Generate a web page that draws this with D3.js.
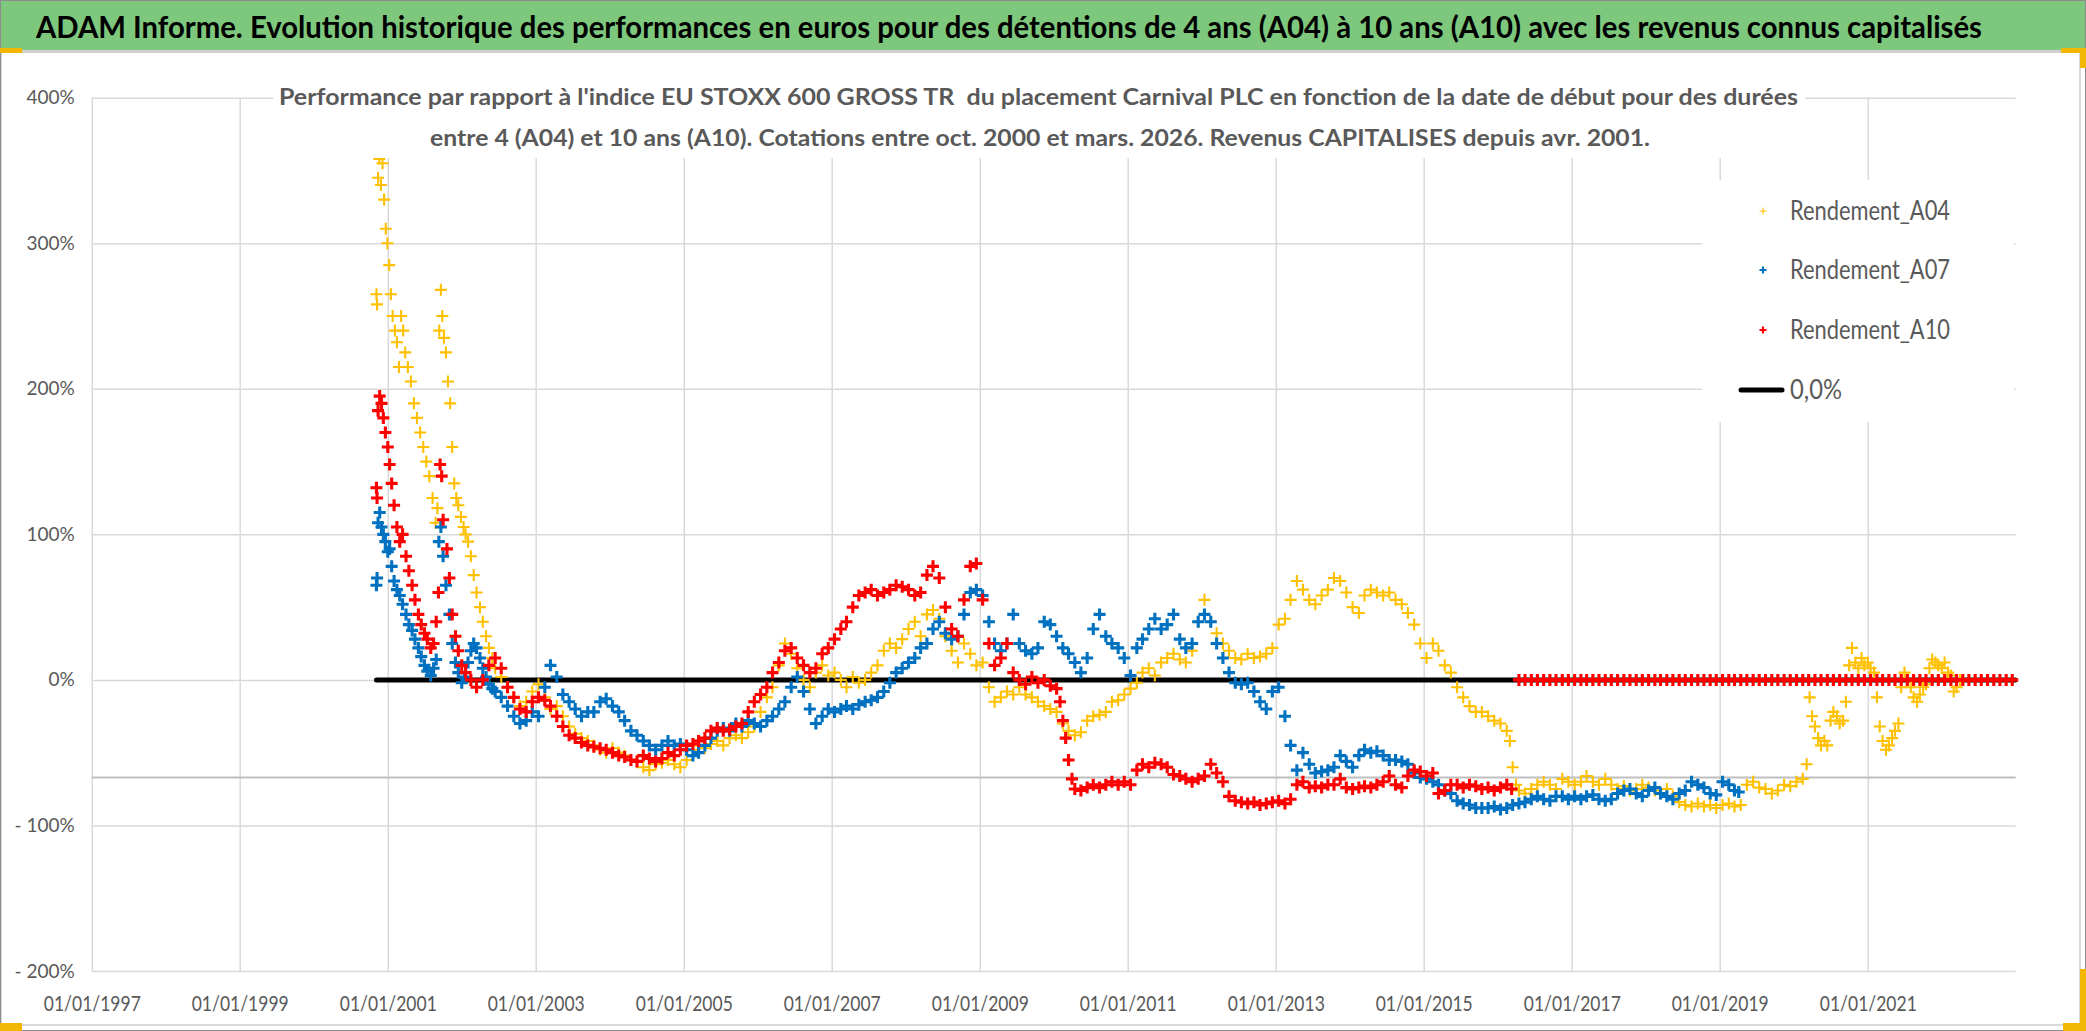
<!DOCTYPE html>
<html>
<head>
<meta charset="utf-8">
<script src="https://cdn.jsdelivr.net/npm/d3@7"></script>
<style>
  body { margin: 0; background: #fff; }
  svg { display: block; }
</style>
</head>
<body>
<div id="chart"></div>
<script>
// Carnival PLC vs EU STOXX 600 GROSS TR, relative performance (%) by start date
// dates "YYYY-MM" are read at mid-month

const a04 = [
  ["2000-11-06",265],["2000-11-09",258],["2000-11-14",345],["2000-11-20",358],["2000-11-28",340],
  ["2000-12-06",355],["2000-12-14",330],["2000-12-22",310],["2000-12-30",300],
  ["2001-01-08",285],["2001-01-16",265],["2001-01-25",250],["2001-02-05",240],["2001-02-15",232],
  ["2001-02-25",215],["2001-03-08",250],["2001-03-18",240],["2001-03-28",225],["2001-04-10",215],
  ["2001-04-25",205],["2001-05-10",190],["2001-05-25",180],["2001-06-10",170],["2001-06-25",160],
  ["2001-07-10",150],["2001-07-25",140],["2001-08-10",125],["2001-08-25",108],["2001-09-03",118],
  ["2001-09-12",240],["2001-09-20",268],["2001-09-27",250],["2001-10-05",235],["2001-10-15",225],
  ["2001-10-25",205],["2001-11-05",190],["2001-11-15",160],["2001-11-25",135],["2001-12-05",125],
  ["2001-12-15",120],["2001-12-28",112],["2002-01-10",105],["2002-01-20",100],["2002-02-01",95],
  ["2002-02-15",85],["2002-03-01",72],["2002-03-15",60],["2002-04-01",50],["2002-04-15",40],
  ["2002-05-01",30],["2002-05-15",22],["2002-06-01",15],["2002-06-15",8],
  ["2002-07",2],["2002-08",-5],["2002-09",-12],["2002-10",-18],["2002-11",-15],["2002-12",-8],
  ["2003-01",-3],["2003-02",-12],["2003-03",-20],["2003-04",-18],["2003-05",-25],["2003-06",-32],
  ["2003-07",-37],["2003-08",-40],["2003-09",-42],["2003-10",-45],["2003-11",-48],["2003-12",-50],
  ["2004-01",-47],["2004-02",-50],["2004-03",-52],["2004-04",-55],["2004-05",-56],["2004-06",-60],
  ["2004-07",-62],["2004-08",-58],["2004-09",-57],["2004-10",-55],["2004-11",-58],["2004-12",-60],
  ["2005-01",-55],["2005-02",-48],["2005-03",-45],["2005-04",-47],["2005-05",-44],["2005-06",-42],
  ["2005-07",-45],["2005-08",-40],["2005-09",-38],["2005-10",-40],["2005-11",-36],["2005-12",-32],
  ["2006-01",-22],["2006-02",-12],["2006-03",-5],["2006-04",10],["2006-05",25],["2006-06",18],
  ["2006-07",8],["2006-08",0],["2006-09",-5],["2006-10",5],["2006-11",10],["2006-12",3],
  ["2007-01",5],["2007-02",0],["2007-03",-5],["2007-04",2],["2007-05",-2],["2007-06",0],
  ["2007-07",5],["2007-08",10],["2007-09",20],["2007-10",25],["2007-11",22],["2007-12",28],
  ["2008-01",35],["2008-02",40],["2008-03",30],["2008-04",45],["2008-05",48],["2008-06",42],
  ["2008-07",30],["2008-08",20],["2008-09",12],["2008-10",25],["2008-11",18],["2008-12",10],
  ["2009-01",12],["2009-02",-5],["2009-03",-15],["2009-04",-12],["2009-05",-8],["2009-06",-10],
  ["2009-07",-5],["2009-08",-10],["2009-09",-12],["2009-10",-15],["2009-11",-18],["2009-12",-20],
  ["2010-01",-22],["2010-02",-30],["2010-03",-35],["2010-04",-38],["2010-05",-36],["2010-06",-28],
  ["2010-07",-25],["2010-08",-24],["2010-09",-22],["2010-10",-15],["2010-11",-14],["2010-12",-10],
  ["2011-01",-6],["2011-02",-2],["2011-03",5],["2011-04",8],["2011-05",3],["2011-06",12],
  ["2011-07",15],["2011-08",18],["2011-09",14],["2011-10",12],["2011-11",20],["2011-12",40],
  ["2012-01",55],["2012-02",40],["2012-03",32],["2012-04",25],["2012-05",20],["2012-06",15],
  ["2012-07",14],["2012-08",18],["2012-09",15],["2012-10",16],["2012-11",18],["2012-12",22],
  ["2013-01",38],["2013-02",42],["2013-03",55],["2013-04",68],["2013-05",62],["2013-06",55],
  ["2013-07",52],["2013-08",58],["2013-09",62],["2013-10",70],["2013-11",68],["2013-12",60],
  ["2014-01",50],["2014-02",46],["2014-03",58],["2014-04",62],["2014-05",60],["2014-06",58],
  ["2014-07",60],["2014-08",55],["2014-09",52],["2014-10",46],["2014-11",38],["2014-12",25],
  ["2015-01",15],["2015-02",25],["2015-03",20],["2015-04",10],["2015-05",5],["2015-06",-5],
  ["2015-07",-12],["2015-08",-18],["2015-09",-22],["2015-10",-22],["2015-11",-25],["2015-12",-28],
  ["2016-01",-30],["2016-02",-35],["2016-03-01",-42],["2016-03-15",-60],["2016-04-01",-72],
  ["2016-04",-76],["2016-05",-78],["2016-06",-75],["2016-07",-72],["2016-08",-70],["2016-09",-72],
  ["2016-10",-75],["2016-11",-68],["2016-12",-70],
  ["2017-01",-72],["2017-02",-70],["2017-03",-66],["2017-04",-70],["2017-05",-72],["2017-06",-68],
  ["2017-07",-72],["2017-08",-75],["2017-09",-73],["2017-10",-76],["2017-11",-75],["2017-12",-72],
  ["2018-01",-74],["2018-02",-76],["2018-03",-78],["2018-04",-75],["2018-05",-80],["2018-06",-84],
  ["2018-07",-86],["2018-08",-87],["2018-09",-85],["2018-10",-87],["2018-11",-86],["2018-12",-88],
  ["2019-01",-86],["2019-02",-85],["2019-03",-87],["2019-04",-86],["2019-05",-72],["2019-06",-70],
  ["2019-07",-74],["2019-08",-75],["2019-09",-78],["2019-10",-76],["2019-11",-72],["2019-12",-73],
  ["2020-01",-70],["2020-02",-68],["2020-03-05",-58],["2020-03-20",-12],["2020-04-01",-25],
  ["2020-04-15",-32],["2020-05-01",-40],["2020-05-15",-45],["2020-06-01",-42],["2020-06-15",-45],
  ["2020-07-01",-28],["2020-07-15",-22],["2020-08-01",-25],["2020-08-15",-30],["2020-09-01",-28],
  ["2020-09-15",-15],["2020-10-01",10],["2020-10-15",22],["2020-11-01",12],["2020-11-15",8],
  ["2020-12-01",15],["2020-12-15",10],["2021-01-01",12],["2021-01-15",8],["2021-02-01",5],
  ["2021-02-15",-12],["2021-03-01",-32],["2021-03-15",-42],["2021-04-01",-48],["2021-04-15",-45],
  ["2021-05-01",-40],["2021-05-15",-35],["2021-06-01",-30],["2021-06-15",-5],["2021-07-01",5],
  ["2021-07-15",0],["2021-08-01",-5],["2021-08-15",-12],["2021-09-01",-15],["2021-09-15",-10],
  ["2021-10-01",-5],["2021-10-15",-3],["2021-11-01",8],["2021-11-15",14],["2021-12-01",12],
  ["2021-12-15",10],["2022-01-01",8],["2022-01-15",12],["2022-02-01",5],["2022-02-15",3],
  ["2022-03-01",-8],["2022-03-15",-5],["2022-04-01",0]
];

const a07 = [
  ["2000-11-06",65],["2000-11-09",70],["2000-11-14",108],["2000-11-22",115],["2000-12-01",105],
  ["2000-12-10",100],["2000-12-20",95],["2001-01-01",88],["2001-01-10",90],["2001-01-20",78],
  ["2001-02-01",68],["2001-02-15",62],["2001-03-01",58],["2001-03-15",52],["2001-04-01",45],
  ["2001-04-15",38],["2001-05-01",34],["2001-05-15",28],["2001-06-01",22],["2001-06-15",16],
  ["2001-07-01",10],["2001-07-15",6],["2001-08-01",3],["2001-08-15",8],["2001-08-28",14],
  ["2001-09-10",95],["2001-09-20",105],["2001-10-01",85],["2001-10-15",65],["2001-11-01",45],
  ["2001-11-15",25],["2001-12-01",12],["2001-12-15",5],["2002-01-01",-2],["2002-01-15",2],
  ["2002-02-01",12],["2002-02-15",20],["2002-03-01",25],["2002-03-15",22],["2002-04-01",15],
  ["2002-04-15",8],["2002-05-01",2],["2002-05-15",-3],["2002-06-01",-6],["2002-06-15",-8],
  ["2002-07",-12],["2002-08",-18],["2002-09",-25],["2002-10",-30],["2002-11",-28],["2002-12",-22],
  ["2003-01",-25],["2003-02",-5],["2003-03",10],["2003-04",2],["2003-05",-10],["2003-06",-15],
  ["2003-07",-20],["2003-08",-25],["2003-09",-22],["2003-10",-22],["2003-11",-15],["2003-12",-13],
  ["2004-01",-18],["2004-02",-22],["2004-03",-28],["2004-04",-35],["2004-05",-38],["2004-06",-42],
  ["2004-07",-45],["2004-08",-48],["2004-09",-45],["2004-10",-42],["2004-11",-45],["2004-12",-44],
  ["2005-01",-48],["2005-02",-52],["2005-03",-50],["2005-04",-45],["2005-05",-40],["2005-06",-35],
  ["2005-07",-33],["2005-08",-35],["2005-09",-30],["2005-10",-32],["2005-11",-28],["2005-12",-30],
  ["2006-01",-32],["2006-02",-28],["2006-03",-25],["2006-04",-20],["2006-05",-15],["2006-06",-5],
  ["2006-07",2],["2006-08",-8],["2006-09",-20],["2006-10",-30],["2006-11",-25],["2006-12",-20],
  ["2007-01",-22],["2007-02",-20],["2007-03",-18],["2007-04",-20],["2007-05",-17],["2007-06",-15],
  ["2007-07",-14],["2007-08",-12],["2007-09",-8],["2007-10",-2],["2007-11",5],["2007-12",8],
  ["2008-01",12],["2008-02",15],["2008-03",22],["2008-04",25],["2008-05",35],["2008-06",40],
  ["2008-07",32],["2008-08",28],["2008-09",30],["2008-10",45],["2008-11",60],["2008-12",62],
  ["2009-01",58],["2009-02",40],["2009-03",25],["2009-04",20],["2009-05",25],["2009-06",45],
  ["2009-07",25],["2009-08",20],["2009-09",18],["2009-10",22],["2009-11",40],["2009-12",38],
  ["2010-01",30],["2010-02",22],["2010-03",18],["2010-04",12],["2010-05",5],["2010-06",15],
  ["2010-07",35],["2010-08",45],["2010-09",30],["2010-10",25],["2010-11",22],["2010-12",15],
  ["2011-01",3],["2011-02",22],["2011-03",28],["2011-04",35],["2011-05",42],["2011-06",35],
  ["2011-07",38],["2011-08",45],["2011-09",28],["2011-10",22],["2011-11",25],["2011-12",40],
  ["2012-01",45],["2012-02",40],["2012-03",25],["2012-04",15],["2012-05",5],["2012-06",-2],
  ["2012-07",-3],["2012-08",-2],["2012-09",-8],["2012-10",-15],["2012-11",-20],["2012-12",-8],
  ["2013-01",-5],["2013-02",-25],["2013-03",-45],["2013-04",-62],["2013-05",-50],["2013-06",-58],
  ["2013-07",-64],["2013-08",-63],["2013-09",-62],["2013-10",-60],["2013-11",-52],["2013-12",-56],
  ["2014-01",-60],["2014-02",-52],["2014-03",-48],["2014-04",-50],["2014-05",-49],["2014-06",-52],
  ["2014-07",-55],["2014-08",-55],["2014-09",-56],["2014-10",-58],["2014-11",-64],["2014-12",-67],
  ["2015-01",-68],["2015-02",-70],["2015-03",-72],["2015-04",-76],["2015-05",-78],["2015-06",-83],
  ["2015-07",-85],["2015-08",-86],["2015-09",-88],["2015-10",-88],["2015-11",-88],["2015-12",-87],
  ["2016-01",-89],["2016-02",-88],["2016-03",-86],["2016-04",-85],["2016-05",-84],["2016-06",-82],
  ["2016-07",-80],["2016-08",-82],["2016-09",-83],["2016-10",-80],["2016-11",-80],["2016-12",-82],
  ["2017-01",-80],["2017-02",-82],["2017-03",-80],["2017-04",-79],["2017-05",-82],["2017-06",-83],
  ["2017-07",-82],["2017-08",-78],["2017-09",-76],["2017-10",-75],["2017-11",-78],["2017-12",-80],
  ["2018-01",-76],["2018-02",-74],["2018-03",-78],["2018-04",-80],["2018-05",-82],["2018-06",-78],
  ["2018-07",-76],["2018-08",-70],["2018-09",-72],["2018-10",-74],["2018-11",-78],["2018-12",-79],
  ["2019-01",-70],["2019-02",-72],["2019-03",-76],["2019-04-05",-77]
];

const a10 = [
  ["2000-11-06",132],["2000-11-09",125],["2000-11-14",185],["2000-11-22",195],["2000-12-01",190],
  ["2000-12-10",180],["2000-12-20",170],["2001-01-01",160],["2001-01-10",148],["2001-01-20",135],
  ["2001-02-01",120],["2001-02-15",105],["2001-03-01",95],["2001-03-15",100],["2001-04-01",85],
  ["2001-04-15",75],["2001-05-01",65],["2001-05-15",55],["2001-06-01",45],["2001-06-15",38],
  ["2001-07-01",32],["2001-07-15",28],["2001-08-01",22],["2001-08-15",25],["2001-08-28",40],
  ["2001-09-08",60],["2001-09-16",148],["2001-09-24",140],["2001-10-01",110],["2001-10-20",90],
  ["2001-11-01",70],["2001-11-15",45],["2001-12-01",30],["2001-12-15",20],["2002-01-01",10],
  ["2002-01-20",5],["2002-02-15",0],["2002-03",-5],["2002-04",0],["2002-05",10],["2002-06",15],
  ["2002-07",8],["2002-08",-5],["2002-09",-12],["2002-10",-20],["2002-11",-22],["2002-12",-15],
  ["2003-01",-12],["2003-02",-14],["2003-03",-18],["2003-04",-25],["2003-05",-32],["2003-06",-38],
  ["2003-07",-40],["2003-08",-43],["2003-09",-45],["2003-10",-46],["2003-11",-47],["2003-12",-48],
  ["2004-01",-50],["2004-02",-52],["2004-03",-53],["2004-04",-55],["2004-05",-56],["2004-06",-52],
  ["2004-07",-54],["2004-08",-56],["2004-09",-54],["2004-10",-50],["2004-11",-52],["2004-12",-48],
  ["2005-01",-45],["2005-02",-44],["2005-03",-42],["2005-04",-40],["2005-05",-35],["2005-06",-33],
  ["2005-07",-35],["2005-08",-34],["2005-09",-32],["2005-10",-30],["2005-11",-22],["2005-12",-15],
  ["2006-01",-10],["2006-02",-5],["2006-03",5],["2006-04",12],["2006-05",20],["2006-06",22],
  ["2006-07",15],["2006-08",10],["2006-09",5],["2006-10",8],["2006-11",18],["2006-12",22],
  ["2007-01",28],["2007-02",35],["2007-03",40],["2007-04",50],["2007-05",58],["2007-06",60],
  ["2007-07",62],["2007-08",58],["2007-09",60],["2007-10",62],["2007-11",65],["2007-12",64],
  ["2008-01",62],["2008-02",58],["2008-03",60],["2008-04",72],["2008-05",78],["2008-06",70],
  ["2008-07",50],["2008-08",35],["2008-09",30],["2008-10",55],["2008-11",78],["2008-12",80],
  ["2009-01",55],["2009-02",25],["2009-03",10],["2009-04",15],["2009-05",25],["2009-06",5],
  ["2009-07",0],["2009-08",-3],["2009-09",2],["2009-10",-2],["2009-11",0],["2009-12",-4],
  ["2010-01",-6],["2010-02-01",-15],["2010-02-15",-28],["2010-03-01",-40],["2010-03-15",-55],
  ["2010-04-01",-68],["2010-04-15",-75],["2010-05",-76],["2010-06",-74],["2010-07",-72],
  ["2010-08",-74],["2010-09",-72],["2010-10",-70],["2010-11",-72],["2010-12",-70],
  ["2011-01",-72],["2011-02",-62],["2011-03",-58],["2011-04",-60],["2011-05",-57],["2011-06",-58],
  ["2011-07",-60],["2011-08",-65],["2011-09",-66],["2011-10",-68],["2011-11",-70],["2011-12",-68],
  ["2012-01",-66],["2012-02",-58],["2012-03",-64],["2012-04",-70],["2012-05",-80],["2012-06",-83],
  ["2012-07",-84],["2012-08",-85],["2012-09",-84],["2012-10",-86],["2012-11",-85],["2012-12",-84],
  ["2013-01",-83],["2013-02",-85],["2013-03",-82],["2013-04",-72],["2013-05",-70],["2013-06",-74],
  ["2013-07",-73],["2013-08",-74],["2013-09",-72],["2013-10",-72],["2013-11",-68],["2013-12",-74],
  ["2014-01",-75],["2014-02",-74],["2014-03",-73],["2014-04",-74],["2014-05",-72],["2014-06",-70],
  ["2014-07",-66],["2014-08",-72],["2014-09",-74],["2014-10",-66],["2014-11",-62],["2014-12",-63],
  ["2015-01",-66],["2015-02",-64],["2015-03",-78],["2015-04",-76],["2015-05",-72],["2015-06",-72],
  ["2015-07",-74],["2015-08",-72],["2015-09",-73],["2015-10",-75],["2015-11",-74],["2015-12",-76],
  ["2016-01",-74],["2016-02",-72],["2016-03-10",-75],
  ["2016-04",0],["2016-05",0],["2016-06",0],["2016-07",0],["2016-08",0],["2016-09",0],
  ["2016-10",0],["2016-11",0],["2016-12",0],["2017-01",0],["2017-02",0],["2017-03",0],
  ["2017-04",0],["2017-05",0],["2017-06",0],["2017-07",0],["2017-08",0],["2017-09",0],
  ["2017-10",0],["2017-11",0],["2017-12",0],["2018-01",0],["2018-02",0],["2018-03",0],
  ["2018-04",0],["2018-05",0],["2018-06",0],["2018-07",0],["2018-08",0],["2018-09",0],
  ["2018-10",0],["2018-11",0],["2018-12",0],["2019-01",0],["2019-02",0],["2019-03",0],
  ["2019-04",0],["2019-05",0],["2019-06",0],["2019-07",0],["2019-08",0],["2019-09",0],
  ["2019-10",0],["2019-11",0],["2019-12",0],["2020-01",0],["2020-02",0],["2020-03",0],
  ["2020-04",0],["2020-05",0],["2020-06",0],["2020-07",0],["2020-08",0],["2020-09",0],
  ["2020-10",0],["2020-11",0],["2020-12",0],["2021-01",0],["2021-02",0],["2021-03",0],
  ["2021-04",0],["2021-05",0],["2021-06",0],["2021-07",0],["2021-08",0],["2021-09",0],
  ["2021-10",0],["2021-11",0],["2021-12",0],["2022-01",0],["2022-02",0],["2022-03",0],
  ["2022-04",0],["2022-05",0],["2022-06",0],["2022-07",0],["2022-08",0],["2022-09",0],
  ["2022-10",0],["2022-11",0],["2022-12",0]
];

// reference line "0,0%"
const zeroLine = [["2000-11-06",0],["2022-12-30",0]];

const seriesNames = ["Rendement_A04", "Rendement_A07", "Rendement_A10"];
const zeroName = "0,0%";
const xTickYears = [1997, 1999, 2001, 2003, 2005, 2007, 2009, 2011, 2013, 2015, 2017, 2019, 2021];
const yTicks = [-200, -100, 0, 100, 200, 300, 400];
const axisCross = -67;

const mainTitle = "ADAM Informe. Evolution historique des performances en euros pour des détentions de 4 ans (A04) à 10 ans (A10) avec les revenus connus capitalisés";
const subTitle1 = "Performance par rapport à l'indice EU STOXX 600 GROSS TR  du placement Carnival PLC en fonction de la date de début pour des durées";
const subTitle2 = "entre 4 (A04) et 10 ans (A10). Cotations entre oct. 2000 et mars. 2026. Revenus CAPITALISES depuis avr. 2001.";

// ---------- setup ----------
const W = 2086, H = 1031;
const FONT = "Lato, 'Open Sans', 'DejaVu Sans', sans-serif";
const GREY = "#595959";
const plot = { left: 91.8, right: 2015.7, top: 97.7, bottom: 971 };

const parseDay = d3.timeParse("%Y-%m-%d");
const toPoint = ([d, v]) => ({ date: parseDay(d.length === 7 ? d + "-15" : d), value: v });

const series = [
  { name: seriesNames[0], data: a04.map(toPoint), color: "#FFC000", width: 2.1, size: 6 },
  { name: seriesNames[1], data: a07.map(toPoint), color: "#0070C0", width: 3.1, size: 6 },
  { name: seriesNames[2], data: a10.map(toPoint), color: "#FF0000", width: 3.1, size: 6 }
];

const svg = d3.select("#chart").append("svg")
  .attr("width", W)
  .attr("height", H)
  .attr("viewBox", `0 0 ${W} ${H}`);

const x = d3.scaleTime()
  .domain([new Date(1997, 0, 1), new Date(2023, 0, 1)])
  .range([plot.left, plot.right]);

const y = d3.scaleLinear()
  .domain([-200, 400])
  .range([plot.bottom, plot.top]);

const plus = s => `M${-s},0H${s}M0,${-s}V${s}`;

// ---------- frame + title bar ----------
svg.append("rect").attr("width", W).attr("height", H).attr("fill", "#fff");

svg.append("rect")
  .attr("x", 1).attr("y", 52).attr("width", 2079).attr("height", 973)
  .attr("fill", "#fff").attr("stroke", "#D9D9D9").attr("stroke-width", 2);

svg.append("rect")
  .attr("x", 0).attr("y", 0).attr("width", W).attr("height", 50)
  .attr("fill", "#7DC87D");
svg.append("line")
  .attr("x1", 0).attr("x2", W).attr("y1", 51.5).attr("y2", 51.5)
  .attr("stroke", "#D0D0D0").attr("stroke-width", 3);

svg.append("text")
  .attr("x", 36).attr("y", 27)
  .attr("dy", "0.35em")
  .attr("font-family", FONT)
  .attr("font-size", 30)
  .attr("font-weight", 700)
  .attr("fill", "#000")
  .attr("textLength", 1946)
  .attr("lengthAdjust", "spacingAndGlyphs")
  .text(mainTitle);

// ---------- axes / grid ----------
const gx = svg.append("g")
  .attr("transform", `translate(0,${plot.bottom})`)
  .call(d3.axisBottom(x)
    .tickValues(xTickYears.map(yr => new Date(yr, 0, 1)))
    .tickFormat(d3.timeFormat("%d/%m/%Y"))
    .tickSize(-(plot.bottom - plot.top)));
gx.select(".domain").remove();
gx.selectAll(".tick line").attr("stroke", "#D9D9D9").attr("stroke-width", 1.5);
gx.selectAll(".tick text")
  .attr("y", 32).attr("dy", "0.35em")
  .attr("fill", GREY)
  .attr("font-family", FONT)
  .attr("font-size", 22)
  .attr("textLength", 97)
  .attr("lengthAdjust", "spacingAndGlyphs");

const gy = svg.append("g")
  .attr("transform", `translate(${plot.left},0)`)
  .call(d3.axisLeft(y)
    .tickValues(yTicks)
    .tickFormat(v => v < 0 ? "- " + Math.abs(v) + "%" : v + "%")
    .tickSize(-(plot.right - plot.left))
    .tickPadding(17));
gy.select(".domain").remove();
gy.selectAll(".tick line").attr("stroke", "#D9D9D9").attr("stroke-width", 1.5);
gy.selectAll(".tick text")
  .attr("fill", GREY)
  .attr("font-family", FONT)
  .attr("font-size", 19);

// horizontal axis line (crosses at about -67%)
svg.append("line")
  .attr("x1", plot.left).attr("x2", plot.right)
  .attr("y1", y(axisCross)).attr("y2", y(axisCross))
  .attr("stroke", "#BFBFBF").attr("stroke-width", 2);

// ---------- zero line ----------
svg.append("path")
  .datum(zeroLine.map(toPoint))
  .attr("d", d3.line().x(d => x(d.date)).y(d => y(d.value)))
  .attr("fill", "none")
  .attr("stroke", "#000")
  .attr("stroke-width", 5)
  .attr("stroke-linecap", "round");

// ---------- markers ----------
series.forEach(s => {
  svg.append("g")
    .attr("fill", "none")
    .attr("stroke", s.color)
    .attr("stroke-width", s.width)
    .selectAll("path")
    .data(s.data)
    .join("path")
    .attr("transform", d => `translate(${x(d.date)},${y(d.value)})`)
    .attr("d", plus(s.size));
});

// ---------- chart title (white box over the plot) ----------
svg.append("rect")
  .attr("x", 273).attr("y", 80).attr("width", 1532).attr("height", 78)
  .attr("fill", "#fff");

const sub = svg.append("g")
  .attr("font-family", FONT)
  .attr("font-size", 23)
  .attr("font-weight", 700)
  .attr("fill", GREY);
sub.append("text")
  .attr("xml:space", "preserve")
  .attr("x", 279).attr("y", 97).attr("dy", "0.35em")
  .attr("textLength", 1519).attr("lengthAdjust", "spacingAndGlyphs")
  .text(subTitle1);
sub.append("text")
  .attr("x", 430).attr("y", 138).attr("dy", "0.35em")
  .attr("textLength", 1220).attr("lengthAdjust", "spacingAndGlyphs")
  .text(subTitle2);

// ---------- legend ----------
svg.append("rect")
  .attr("x", 1702).attr("y", 180).attr("width", 312).attr("height", 242)
  .attr("fill", "#fff");

const legendRows = [211, 270, 330];
series.forEach((s, i) => {
  svg.append("path")
    .attr("transform", `translate(1763,${legendRows[i]})`)
    .attr("d", plus(3.5))
    .attr("stroke", s.color)
    .attr("stroke-width", s.width - 1)
    .attr("fill", "none");
  svg.append("text")
    .attr("x", 1790).attr("y", legendRows[i]).attr("dy", "0.35em")
    .attr("font-family", FONT).attr("font-size", 27).attr("fill", GREY)
    .attr("textLength", 160).attr("lengthAdjust", "spacingAndGlyphs")
    .text(s.name);
});
svg.append("line")
  .attr("x1", 1741).attr("x2", 1782).attr("y1", 390).attr("y2", 390)
  .attr("stroke", "#000").attr("stroke-width", 5).attr("stroke-linecap", "round");
svg.append("text")
  .attr("x", 1790).attr("y", 390).attr("dy", "0.35em")
  .attr("font-family", FONT).attr("font-size", 27).attr("fill", GREY)
  .attr("textLength", 52).attr("lengthAdjust", "spacingAndGlyphs")
  .text(zeroName);

// ---------- outer border + selection handles ----------
svg.append("rect")
  .attr("x", 0.5).attr("y", 0.5).attr("width", W - 1).attr("height", H - 1)
  .attr("fill", "none").attr("stroke", "#8C8C8C").attr("stroke-width", 1);

const handle = "#F2B705";
[[0, 48, 22, 5], [2061, 48, 25, 5], [2080, 48, 6, 20],
 [0, 1023, 22, 8], [2063, 1023, 23, 8], [2080, 969, 6, 62]].forEach(r => {
  svg.append("rect")
    .attr("x", r[0]).attr("y", r[1]).attr("width", r[2]).attr("height", r[3])
    .attr("fill", handle);
});
</script>
</body>
</html>
